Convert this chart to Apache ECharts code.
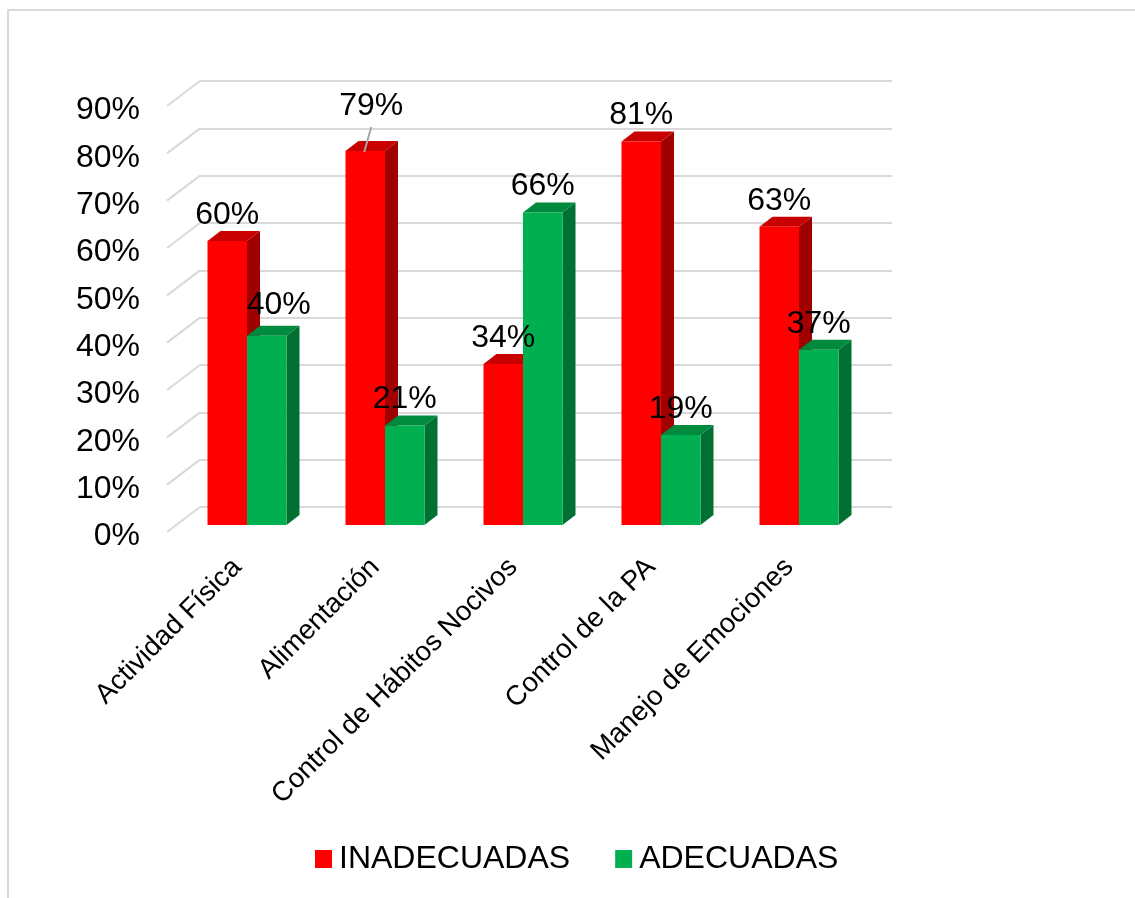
<!DOCTYPE html>
<html><head><meta charset="utf-8">
<style>html,body{margin:0;padding:0;background:#fff}#c{width:1135px;height:898px}</style>
<script src="https://cdn.jsdelivr.net/npm/echarts@6/dist/echarts.min.js"></script>
</head><body><div id="c"></div>
<script>
const categories = ['Actividad Física','Alimentación','Control de Hábitos Nocivos','Control de la PA','Manejo de Emociones'];
const inadecuadas = [60,79,34,81,63];
const adecuadas = [40,21,66,19,37];
const yTicks = [0,10,20,30,40,50,60,70,80,90];

const FONT = '"Liberation Sans", Arial, sans-serif';
const BAR_W = 39.5, DX = 13, DY = 10;
const GRID_DX = 33, GRID_DY = 25;
const RED = {front:'#FF0000', top:'#C80000', side:'#A00000'};
const GREEN = {front:'#00B050', top:'#008A3E', side:'#007033'};

function bar3d(colors, side){
  return function(params, api){
    const p = api.coord([api.value(0), api.value(1)]);
    const b = api.coord([api.value(0), 0]);
    const x0 = side < 0 ? p[0] - BAR_W : p[0];
    const x1 = x0 + BAR_W;
    return {type:'group', children:[
      {type:'polygon', shape:{points:[[x1,p[1]],[x1+DX,p[1]-DY],[x1+DX,b[1]-DY],[x1,b[1]]]}, style:{fill:colors.side}},
      {type:'polygon', shape:{points:[[x0,p[1]],[x0+DX,p[1]-DY],[x1+DX,p[1]-DY],[x1,p[1]]]}, style:{fill:colors.top}},
      {type:'rect', shape:{x:x0,y:p[1],width:BAR_W,height:b[1]-p[1]}, style:{fill:colors.front}}
    ]};
  };
}
// manual label placements as in the reference: [dx, dy, leader]
const labelNudge = {'1:0':[12,-4], '0:1':[6,-19,true]};
function valueLabel(seriesIdx, side){
  return function(params, api){
    const p = api.coord([api.value(0), api.value(1)]);
    const cx = p[0] + side*BAR_W/2 ;
    const n = labelNudge[seriesIdx+':'+params.dataIndex] || [0,0];
    const children = [{type:'text', x:cx+n[0], y:p[1]-26+n[1],
      style:{text:api.value(1)+'%', font:'32px '+FONT, fill:'#000', textAlign:'center', textVerticalAlign:'middle'}}];
    if(n[2]) children.push({type:'line', shape:{x1:cx+6,y1:p[1]-24,x2:cx-1,y2:p[1]+1}, style:{stroke:'#A6A6A6',lineWidth:2}});
    return {type:'group', children};
  };
}
const toPairs = arr => arr.map((v,i)=>[i,v]);

const chart = echarts.init(document.getElementById('c'));
chart.setOption({
  animation:false,
  backgroundColor:'#fff',
  graphic:[{type:'rect', z:-10, shape:{x:8,y:10,width:1300,height:1100}, style:{fill:'none',stroke:'#D9D9D9',lineWidth:2}}],
  legend:{
    data:['INADECUADAS','ADECUADAS'], left:315, top:843, padding:0, itemWidth:17, itemHeight:18, itemGap:45, icon:'rect',
    textStyle:{fontFamily:FONT,fontSize:32,color:'#000',padding:[0,0,0,2]}
  },
  grid:[
    {left:200, width:692, top:81, height:426},
    {left:167, width:33, top:106, height:426},
    {left:178, width:690, top:99, height:426},
    {left:167, width:33, top:110.5, height:426}
  ],
  xAxis:[
    {gridIndex:0, type:'value', min:0, max:1, show:false},
    {gridIndex:1, type:'value', min:0, max:1, show:false},
    {gridIndex:2, type:'category', data:categories, axisLine:{show:false}, axisTick:{show:false},
     axisLabel:{rotate:45, interval:0, margin:28, padding:[0,14,0,0], fontFamily:FONT, fontSize:27.6, color:'#000'}},
    {gridIndex:3, type:'value', min:0, max:1, show:false}
  ],
  yAxis:[
    {gridIndex:0, type:'value', min:0, max:90, interval:10, axisLabel:{show:false}, axisLine:{show:false}, axisTick:{show:false},
     splitLine:{show:true, lineStyle:{color:'#D9D9D9',width:2}}},
    {gridIndex:1, type:'value', min:0, max:90, interval:10, show:false, splitLine:{show:false}},
    {gridIndex:2, type:'value', min:0, max:90, interval:10, show:false, splitLine:{show:false}},
    {gridIndex:3, type:'value', min:0, max:90, interval:10, axisLine:{show:false}, axisTick:{show:false}, splitLine:{show:false},
     axisLabel:{formatter:'{value}%', margin:27, fontFamily:FONT, fontSize:32, color:'#000'}}
  ],
  series:[
    {type:'custom', name:'walls', xAxisIndex:1, yAxisIndex:1, z:1, silent:true, data:yTicks.map(v=>[0,v]),
     renderItem:(params,api)=>{
       const p = api.coord([api.value(0), api.value(1)]);
       return {type:'line', shape:{x1:p[0],y1:p[1],x2:p[0]+GRID_DX,y2:p[1]-GRID_DY}, style:{stroke:'#D9D9D9',lineWidth:2}};
     }},
    {type:'custom', name:'INADECUADAS', xAxisIndex:2, yAxisIndex:2, z:3, itemStyle:{color:RED.front}, data:toPairs(inadecuadas), renderItem:bar3d(RED,-1)},
    {type:'custom', name:'ADECUADAS', xAxisIndex:2, yAxisIndex:2, z:4, itemStyle:{color:GREEN.front}, data:toPairs(adecuadas), renderItem:bar3d(GREEN,1)},
    {type:'custom', name:'labelsA', xAxisIndex:2, yAxisIndex:2, z:6, silent:true, data:toPairs(inadecuadas), renderItem:valueLabel(0,-1)},
    {type:'custom', name:'labelsB', xAxisIndex:2, yAxisIndex:2, z:6, silent:true, data:toPairs(adecuadas), renderItem:valueLabel(1,1)}
  ]
});
</script></body></html>
